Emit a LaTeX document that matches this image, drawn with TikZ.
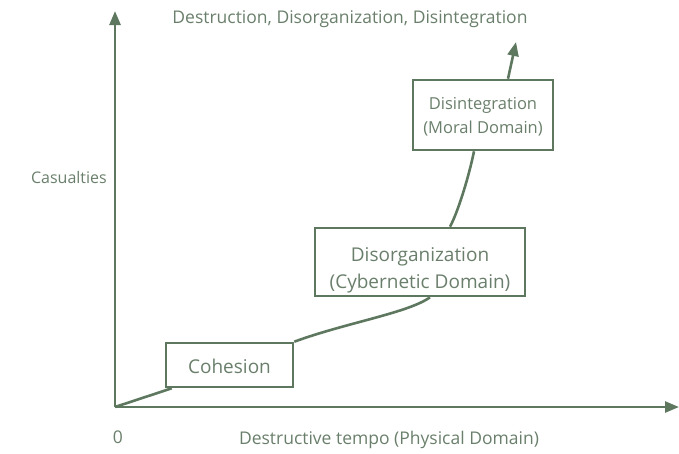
\documentclass[tikz,border=0pt]{standalone}
\usepackage{fontspec}
\setmainfont{Open Sans}
\usetikzlibrary{arrows.meta}
\definecolor{ln}{HTML}{5E775F}
\definecolor{tx}{HTML}{6A7F6B}
\tikzset{
  axisline/.style={draw=ln, line width=2.6pt, -{Triangle[length=14pt,width=11pt]}},
  curveline/.style={draw=ln, line width=2.6pt},
  stagebox/.style={draw=ln, line width=2.6pt, fill=white, inner sep=0pt},
  boxtext/.style={text=tx, align=center, inner sep=0pt},
  lbl/.style={text=tx, font=\fontsize{17.5}{20}\selectfont, inner sep=0pt}
}
\begin{document}
\begin{tikzpicture}[x=1pt,y=-1pt]
\useasboundingbox (0,0) rectangle (679,453);
\coordinate (o) at (115,407);
\coordinate (ytop) at (115,11);
\coordinate (xend) at (679,407);
\coordinate (tip) at (516,42);

\draw[axisline] (o) -- (ytop);
\draw[axisline] (o) -- (xend);

\node[stagebox, minimum width=127pt, minimum height=44pt] (coh) at (229.5,365) {};
\node[stagebox, minimum width=210pt, minimum height=68pt] (dis) at (420,262) {};
\node[stagebox, minimum width=140pt, minimum height=70pt] (int) at (483,115) {};

\node[boxtext, font=\fontsize{19}{27}\selectfont] (cohtxt) at ([yshift=-1pt]coh.center) {Cohesion};
\node[boxtext, font=\fontsize{19}{27}\selectfont] (distxt) at ([yshift=-8pt]dis.center) {Disorganization\\(Cybernetic Domain)};
\node[boxtext, font=\fontsize{16.5}{24}\selectfont] (inttxt) at ([yshift=-2pt]int.center) {Disintegration\\(Moral Domain)};

\draw[curveline] (o) -- ([xshift=7pt]coh.south west);
\draw[curveline] (coh.north east) .. controls (345,323) and (408,313) .. ([xshift=10pt]dis.south);
\draw[curveline] ([xshift=30pt]dis.north) .. controls (458,212) and (469,176) .. ([xshift=-9pt]int.south);
\draw[curveline, -{Triangle[length=14pt,width=11pt]}] ([xshift=25pt]int.north) -- (tip);

\node[lbl] (title) at (350,19) {Destruction, Disorganization, Disintegration};
\node[lbl, anchor=east, font=\fontsize{16}{20}\selectfont] (cas) at (107,177) {Casualties};
\node[lbl] (zero) at (118,437) {0};
\node[lbl] (xl) at (389,440) {Destructive tempo (Physical Domain)};
\end{tikzpicture}
\end{document}
